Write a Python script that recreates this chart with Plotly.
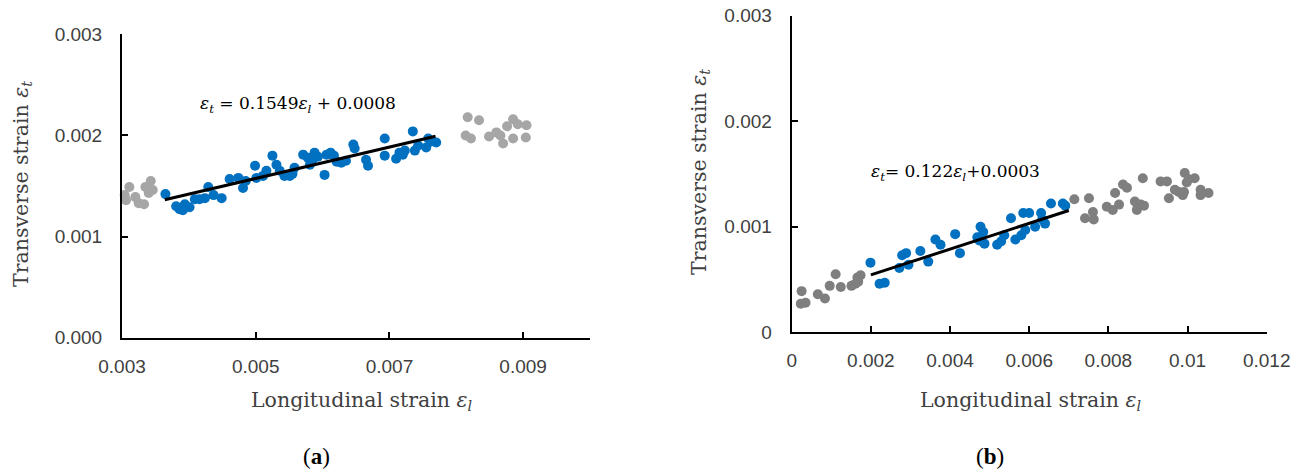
import plotly.graph_objects as go

# ---------------- Panel (a) data ----------------
a_gray_left_x = [0.00304, 0.00311, 0.00306, 0.00320, 0.00325, 0.00333, 0.00335, 0.00343, 0.00340, 0.00346]
a_gray_left_y = [0.00141, 0.00149, 0.00136, 0.00139, 0.00133, 0.00132, 0.00149, 0.00155, 0.00143, 0.00146]

a_gray_right_x = [0.00817, 0.00834, 0.00814, 0.00822, 0.00849, 0.00860, 0.00870, 0.00876, 0.00885, 0.00892,
                  0.00905, 0.00885, 0.00904, 0.00866]
a_gray_right_y = [0.00218, 0.00215, 0.00200, 0.00197, 0.00199, 0.00203, 0.00192, 0.00209, 0.00216, 0.00211,
                  0.00210, 0.00197, 0.00198, 0.00200]

a_blue_x = [0.00365, 0.00381, 0.00386, 0.00394, 0.00401, 0.00409, 0.00416, 0.00424, 0.00429, 0.00449,
            0.00461, 0.00474, 0.00481, 0.00499, 0.00501, 0.00511, 0.00516, 0.00525, 0.00531, 0.00536,
            0.00543, 0.00551, 0.00558, 0.00571, 0.00578, 0.00581, 0.00588, 0.00593, 0.00603, 0.00606,
            0.00612, 0.00617, 0.00621, 0.00628, 0.00646, 0.00648, 0.00665, 0.00668, 0.00693, 0.00693,
            0.00710, 0.00715, 0.00723, 0.00735, 0.00738, 0.00743, 0.00758, 0.00763, 0.00770,
            0.00391, 0.00437, 0.00485, 0.00555, 0.00585, 0.00635, 0.00720, 0.00755]
a_blue_y = [0.00142, 0.00130, 0.00127, 0.00132, 0.00129, 0.00137, 0.00137, 0.00138, 0.00149, 0.00138,
            0.00157, 0.00158, 0.00148, 0.00170, 0.00158, 0.00160, 0.00165, 0.00180, 0.00171, 0.00165,
            0.00160, 0.00160, 0.00168, 0.00181, 0.00178, 0.00171, 0.00183, 0.00179, 0.00161, 0.00181,
            0.00183, 0.00180, 0.00174, 0.00173, 0.00191, 0.00187, 0.00176, 0.00170, 0.00197, 0.00180,
            0.00177, 0.00183, 0.00185, 0.00204, 0.00185, 0.00190, 0.00197, 0.00194, 0.00193,
            0.00126, 0.00141, 0.00155, 0.00162, 0.00176, 0.00175, 0.00181, 0.00188]

a_fit_slope = 0.1549
a_fit_intercept = 0.0008
a_fit_range = [0.00364, 0.00769]

a_xticks = [0.003, 0.005, 0.007, 0.009]
a_xticklabels = ["0.003", "0.005", "0.007", "0.009"]
a_yticks = [0.0, 0.001, 0.002, 0.003]
a_yticklabels = ["0.000", "0.001", "0.002", "0.003"]

# ---------------- Panel (b) data ----------------
b_gray_left_x = [0.00025, 0.00023, 0.00035, 0.00066, 0.00084, 0.00096, 0.00111, 0.00124, 0.00151, 0.00161,
                 0.00166, 0.00174, 0.00168]
b_gray_left_y = [0.00039, 0.00027, 0.00028, 0.00036, 0.00032, 0.00044, 0.00055, 0.00043, 0.00044, 0.00046,
                 0.00052, 0.00054, 0.00048]

b_blue_x = [0.00199, 0.00222, 0.00235, 0.00272, 0.00279, 0.00289, 0.00295, 0.00325, 0.00345, 0.00363,
            0.00376, 0.00413, 0.00425, 0.00469, 0.00477, 0.00484, 0.00487, 0.00474, 0.00519, 0.00529,
            0.00537, 0.00554, 0.00565, 0.00580, 0.00585, 0.00590, 0.00600, 0.00615, 0.00630, 0.00633,
            0.00640, 0.00655, 0.00685, 0.00691]
b_blue_y = [0.00066, 0.00046, 0.00047, 0.00061, 0.00073, 0.00075, 0.00064, 0.00077, 0.00067, 0.00088,
            0.00083, 0.00093, 0.00075, 0.00090, 0.00100, 0.00095, 0.00084, 0.00087, 0.00083, 0.00086,
            0.00092, 0.00108, 0.00088, 0.00092, 0.00113, 0.00097, 0.00113, 0.00100, 0.00113, 0.00107,
            0.00103, 0.00122, 0.00122, 0.00120]

b_gray_right_x = [0.00714, 0.00741, 0.00751, 0.00761, 0.00763, 0.00796, 0.00811, 0.00817, 0.00827, 0.00837,
                  0.00847, 0.00867, 0.00872, 0.00882, 0.00887, 0.00890, 0.00932, 0.00948, 0.00953, 0.00968,
                  0.00978, 0.00988, 0.00993, 0.00998, 0.01003, 0.01018, 0.01033, 0.01033, 0.01053, 0.00991]
b_gray_right_y = [0.00126, 0.00108, 0.00127, 0.00114, 0.00107, 0.00119, 0.00116, 0.00132, 0.00121, 0.00140,
                  0.00137, 0.00124, 0.00116, 0.00121, 0.00146, 0.00120, 0.00143, 0.00143, 0.00127, 0.00135,
                  0.00133, 0.00130, 0.00151, 0.00142, 0.00145, 0.00146, 0.00135, 0.00130, 0.00132, 0.00133]

b_fit_slope = 0.122
b_fit_intercept = 0.0003
b_fit_range = [0.0020, 0.0070]

b_xticks = [0, 0.002, 0.004, 0.006, 0.008, 0.010, 0.012]
b_xticklabels = ["0", "0.002", "0.004", "0.006", "0.008", "0.01", "0.012"]
b_yticks = [0, 0.001, 0.002, 0.003]
b_yticklabels = ["0", "0.001", "0.002", "0.003"]

BLUE = "#0070C0"
GRAY_A = "#A6A6A6"
GRAY_B = "#7F7F7F"
MS = 10

fig = go.Figure()

def pts(x, y, color, xa, ya):
    fig.add_trace(go.Scatter(x=x, y=y, mode="markers", xaxis=xa, yaxis=ya,
                             marker=dict(color=color, size=MS, line=dict(width=0)),
                             cliponaxis=False, showlegend=False, hoverinfo="x+y"))

def fit(rng, slope, intercept, xa, ya):
    ys = [slope * v + intercept for v in rng]
    fig.add_trace(go.Scatter(x=rng, y=ys, mode="lines", xaxis=xa, yaxis=ya,
                             line=dict(color="black", width=3), showlegend=False))

pts(a_gray_left_x, a_gray_left_y, GRAY_A, "x", "y")
pts(a_gray_right_x, a_gray_right_y, GRAY_A, "x", "y")
pts(a_blue_x, a_blue_y, BLUE, "x", "y")
fit(a_fit_range, a_fit_slope, a_fit_intercept, "x", "y")

pts(b_gray_left_x, b_gray_left_y, GRAY_B, "x2", "y2")
pts(b_gray_right_x, b_gray_right_y, GRAY_B, "x2", "y2")
pts(b_blue_x, b_blue_y, BLUE, "x2", "y2")
fit(b_fit_range, b_fit_slope, b_fit_intercept, "x2", "y2")

W, H = 1308, 473
tickfont = dict(family="Liberation Sans, Arial, sans-serif", size=19, color="#404040")
axis_common = dict(showgrid=False, zeroline=False, showline=True, linecolor="black", linewidth=2,
                   ticks="inside", ticklen=6, tickwidth=2, tickcolor="black", tickfont=tickfont,
                   fixedrange=True, automargin=False)

fig.update_layout(
    width=W, height=H, margin=dict(l=0, r=0, t=0, b=0, autoexpand=False),
    paper_bgcolor="white", plot_bgcolor="white",
    xaxis=dict(domain=[122 / W, 590 / W], range=[0.003, 0.010], tickvals=a_xticks,
               ticktext=a_xticklabels, anchor="y", ticklabelstandoff=10, **axis_common),
    yaxis=dict(domain=[1 - 337.7 / H, 1 - 34.3 / H], range=[0, 0.003], tickvals=a_yticks,
               ticktext=a_yticklabels, anchor="x", ticklabelstandoff=14, **axis_common),
    xaxis2=dict(domain=[791.7 / W, 1266.7 / W], range=[0, 0.012], tickvals=b_xticks,
                ticktext=b_xticklabels, anchor="y2", ticklabelstandoff=10, **axis_common),
    yaxis2=dict(domain=[1 - 332.3 / H, 1 - 15.7 / H], range=[0, 0.003], tickvals=b_yticks,
                ticktext=b_yticklabels, anchor="x2", ticklabelstandoff=14, **axis_common),
)

serif = "DejaVu Serif, serif"
title_font = dict(family=serif, size=20.5, color="#404040")
eq_font = dict(family=serif, size=17, color="black")

def ann(text, x, y, font, angle=0):
    fig.add_annotation(text=text, x=x / W, y=1 - y / H, xref="paper", yref="paper",
                       showarrow=False, font=font, textangle=angle,
                       xanchor="center", yanchor="middle")

ann("Longitudinal strain <i>ε<sub>l</sub></i>", 361, 401, title_font)
ann("Transverse strain <i>ε<sub>t</sub></i>", 22, 184, title_font, angle=-90)
ann("Longitudinal strain <i>ε<sub>l</sub></i>", 1030, 401, title_font)
ann("Transverse strain <i>ε<sub>t</sub></i>", 700, 172, title_font, angle=-90)

ann("<i>ε<sub>t</sub></i> = 0.1549<i>ε<sub>l</sub></i> + 0.0008", 298, 104, eq_font)
ann("<i>ε<sub>t</sub></i>= 0.122<i>ε<sub>l</sub></i>+0.0003", 955, 173, eq_font)

label_font = dict(family="Liberation Serif, serif", size=23, color="black")
ann("(<b>a</b>)", 316, 456, label_font)
ann("(<b>b</b>)", 990, 456, label_font)

fig.write_html("out.html")
